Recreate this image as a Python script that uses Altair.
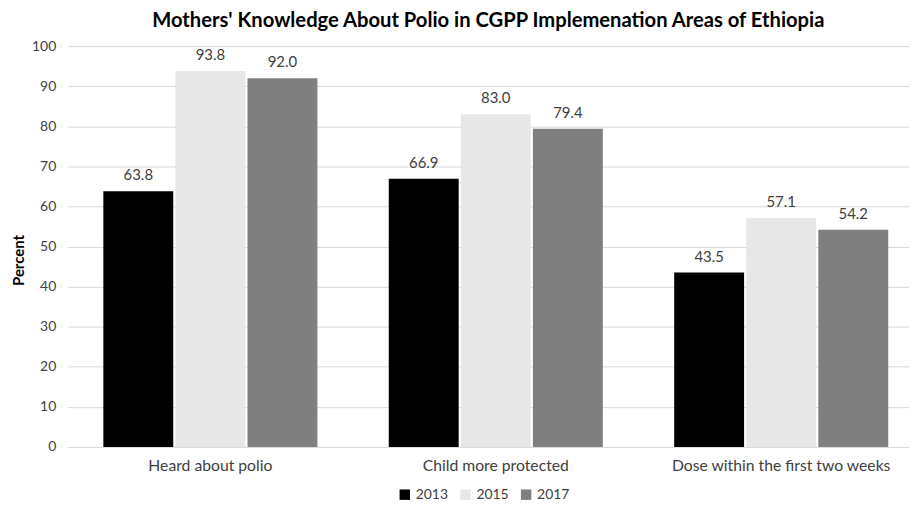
import altair as alt
import pandas as pd

categories = ["Heard about polio", "Child more protected", "Dose within the first two weeks"]
years = ["2013", "2015", "2017"]
values_2013 = [63.8, 66.9, 43.5]
values_2015 = [93.8, 83.0, 57.1]
values_2017 = [92.0, 79.4, 54.2]
colors = ["#000000", "#e7e7e7", "#7f7f7f"]

rows = []
for yr, vals in zip(years, [values_2013, values_2015, values_2017]):
    for c, v in zip(categories, vals):
        rows.append({"category": c, "year": yr, "value": v, "label": f"{v:.1f}"})
df = pd.DataFrame(rows)

FONT = "Lato"

x = alt.X("category:N", sort=categories, title=None,
          scale=alt.Scale(paddingInner=0.25, paddingOuter=0.125, range=[0, 861]),
          axis=alt.Axis(labelAngle=0, labelFontSize=15.8, labelColor="#404040", labelFont=FONT,
                        ticks=False, domain=False, labelPadding=12, labelLimit=0))
xoff = alt.XOffset("year:N", sort=years, scale=alt.Scale(paddingInner=0.03))

bars = alt.Chart(df).mark_bar().encode(
    x=x, xOffset=xoff,
    y=alt.Y("value:Q", title="Percent",
            scale=alt.Scale(domain=[0, 100]),
            axis=alt.Axis(values=list(range(0, 101, 10)), labelFontSize=14, labelColor="#404040",
                          labelFont=FONT, ticks=False, domain=False, labelPadding=12,
                          gridColor="#d9d9d9", titleFont=FONT, titleFontSize=15,
                          titleFontWeight="bold", titleColor="#000000", titlePadding=5,
                          titleY=215)),
    color=alt.Color("year:N", sort=years, scale=alt.Scale(domain=years, range=colors),
                    legend=alt.Legend(title=None, orient="none", legendX=332, legendY=444,
                                      direction="horizontal", symbolType="square",
                                      symbolSize=110, symbolStrokeWidth=0, labelFontSize=14,
                                      labelColor="#404040", labelFont=FONT, columnPadding=10,
                                      symbolOpacity=1)),
)

text = alt.Chart(df).mark_text(baseline="bottom", dy=-8, fontSize=15, color="#404040", font=FONT).encode(
    x=alt.X("category:N", sort=categories), xOffset=xoff,
    y="value:Q", text="label:N",
)

chart = (bars + text).properties(
    width=846, height=403,
    title=alt.TitleParams("Mothers' Knowledge About Polio in CGPP Implemenation Areas of Ethiopia",
                          fontSize=20.3, font=FONT, fontWeight="bold", color="#000000",
                          anchor="middle", offset=8),
    padding={"left": 60, "top": 37, "right": 0, "bottom": 57},
    autosize=alt.AutoSizeParams(type="none"),
).configure_view(stroke=None)

chart.save("out.html", embed_options={"renderer": "svg", "actions": False})
